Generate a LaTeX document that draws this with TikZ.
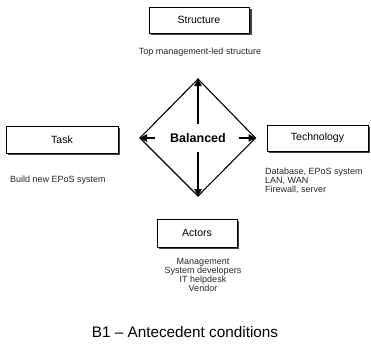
\documentclass[tikz,border=0pt]{standalone}
\usepackage{fontspec}
\setmainfont{Liberation Sans}
\usetikzlibrary{arrows.meta,shapes.geometric}

\tikzset{
  facet/.style={draw=black, line width=0.8pt, fill=white, inner sep=0pt,
    font=\fontsize{10.5}{12}\selectfont},
  shadow/.style={fill=black!75},
  note/.style={font=\fontsize{9}{9}\selectfont, text=black!85, inner sep=0pt, align=left},
  notec/.style={note, align=center},
  link/.style={line width=1.1pt, -{Triangle[length=7pt,width=7.5pt]}},
  rim/.style={draw=black, line width=1.1pt},
}

\begin{document}
\begin{tikzpicture}[x=1pt,y=-1pt]
\useasboundingbox (0,0) rectangle (371,351);

% drop shadows behind the four boxes
\fill[shadow] (151,9) rectangle (251.5,35);
\fill[shadow] (8,128) rectangle (119.5,155);
\fill[shadow] (269,127) rectangle (369.5,153);
\fill[shadow] (159,221) rectangle (238.5,249);

% the four boxes
\node[facet, minimum width=100pt, minimum height=26pt] (structure) at (199,20) {Structure};
\node[facet, minimum width=112pt, minimum height=27pt] (task) at (62,139.5) {Task};
\node[facet, minimum width=101pt, minimum height=26pt] (technology) at (317.5,138) {Technology};
\node[facet, minimum width=80pt, minimum height=28pt] (actors) at (197,233) {Actors};

% notes under the boxes
\node[notec, anchor=center] (structnote) at (200,52) {Top management-led structure};
\node[note, anchor=west] (tasknote) at (10,180) {Build new EPoS system};
\node[note, anchor=north west] (technote) at (265,167.5) {Database, EPoS system\\LAN, WAN\\Firewall, server};
\node[notec, anchor=north] (actornote) at (203,258.5) {Management\\System developers\\IT helpdesk\\Vendor};

% the balance diamond
\coordinate (top) at (198,79);
\coordinate (left) at (140,138);
\coordinate (right) at (255.5,138);
\coordinate (bottom) at (198,196);
\draw[rim, line join=miter] (top) -- (right) -- (bottom) -- (left) -- cycle;

\node[font=\bfseries\fontsize{12.5}{14}\selectfont] (bal) at (198,138) {Balanced};

\coordinate (upstart) at (198,124);
\coordinate (downstart) at (198,152);
\coordinate (leftstart) at (155,138);
\coordinate (rightstart) at (239,138);
\draw[link] (upstart) -- (top);
\draw[link] (downstart) -- (bottom);
\draw[link] (leftstart) -- (left);
\draw[link] (rightstart) -- (right);

% caption
\node[font=\fontsize{15.3}{17}\selectfont] (caption) at (185,332) {B1 -- Antecedent conditions};
\end{tikzpicture}
\end{document}
